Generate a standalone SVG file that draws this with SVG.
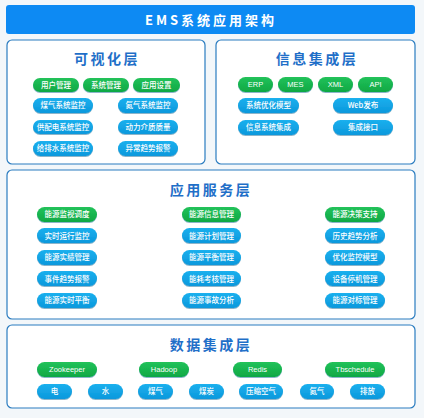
<svg xmlns="http://www.w3.org/2000/svg" width="424" height="418" viewBox="0 0 424 418">
<defs>
<linearGradient id="gG" x1="0" y1="0" x2="0" y2="1"><stop offset="0" stop-color="#22c25a"/><stop offset="1" stop-color="#0fa844"/></linearGradient>
<linearGradient id="gB" x1="0" y1="0" x2="0" y2="1"><stop offset="0" stop-color="#1bb0ee"/><stop offset="1" stop-color="#0b98dc"/></linearGradient>
<filter id="sh" x="-10%" y="-20%" width="120%" height="160%"><feDropShadow dx="0" dy="1" stdDeviation="0.6" flood-color="#0a5a8a" flood-opacity="0.45"/></filter>
</defs>
<style>
.panel{fill:#ffffff;stroke:#2a7cc0;stroke-width:1.2}
.ptitle{font-family:"Noto Sans CJK SC","Liberation Sans",sans-serif;font-size:14px;font-weight:bold;fill:#1f6fc8;text-anchor:middle;letter-spacing:2.5px}
.g{fill:url(#gG);filter:url(#sh)}
.b{fill:url(#gB);filter:url(#sh)}
.t{font-family:"Noto Sans CJK SC","Liberation Sans",sans-serif;font-size:7.5px;font-weight:500;fill:#ffffff;text-anchor:middle}
.lt{font-family:"Liberation Sans","Noto Sans CJK SC",sans-serif;font-size:7.5px;fill:#ffffff;text-anchor:middle}
</style>
<rect x="0" y="0" width="424" height="418" fill="#f3f7fa"/>
<g id="title">
<rect x="6" y="5" width="409" height="29" rx="3" fill="#0d8af3"/>
<text x="211" y="24.5" font-family="Noto Sans CJK SC,Liberation Sans,sans-serif" font-size="13" font-weight="bold" fill="#ffffff" text-anchor="middle" letter-spacing="3">EMS系统应用架构</text>
</g>
<g id="layer-visual">
<rect class="panel" x="7" y="40" width="198" height="124" rx="5"/>
<text class="ptitle" x="107" y="64">可视化层</text>
<g id="n-yhgl"><rect class="g" x="33" y="78" width="46" height="14" rx="7"/><text class="t" x="56" y="87.6">用户管理</text></g>
<g id="n-xtgl"><rect class="g" x="83" y="78" width="46" height="14" rx="7"/><text class="t" x="106" y="87.6">系统管理</text></g>
<g id="n-yysz"><rect class="g" x="133" y="78" width="47" height="14" rx="7"/><text class="t" x="156.5" y="87.6">应用设置</text></g>
<g id="n-mqjk"><rect class="b" x="33" y="98" width="60" height="15" rx="7.5"/><text class="t" x="63" y="108.1">煤气系统监控</text></g>
<g id="n-dqjk"><rect class="b" x="118" y="98" width="60" height="15" rx="7.5"/><text class="t" x="148" y="108.1">氮气系统监控</text></g>
<g id="n-gpd"><rect class="b" x="33" y="120" width="60" height="14" rx="7"/><text class="t" x="63" y="129.6">供配电系统监控</text></g>
<g id="n-dljz"><rect class="b" x="118" y="120" width="60" height="14" rx="7"/><text class="t" x="148" y="129.6">动力介质质量</text></g>
<g id="n-gps"><rect class="b" x="33" y="141" width="60" height="15" rx="7.5"/><text class="t" x="63" y="151.1">给排水系统监控</text></g>
<g id="n-yc"><rect class="b" x="118" y="141" width="60" height="15" rx="7.5"/><text class="t" x="148" y="151.1">异常趋势报警</text></g>
</g>
<g id="layer-info">
<rect class="panel" x="216" y="40" width="199" height="124" rx="5"/>
<text class="ptitle" x="317" y="64">信息集成层</text>
<g id="n-erp"><rect class="g" x="238" y="77" width="35" height="15" rx="7.5"/><text class="lt" x="255.5" y="87.3">ERP</text></g>
<g id="n-mes"><rect class="g" x="278" y="77" width="35" height="15" rx="7.5"/><text class="lt" x="295.5" y="87.3">MES</text></g>
<g id="n-xml"><rect class="g" x="318" y="77" width="35" height="15" rx="7.5"/><text class="lt" x="335.5" y="87.3">XML</text></g>
<g id="n-api"><rect class="g" x="358" y="77" width="35" height="15" rx="7.5"/><text class="lt" x="375.5" y="87.3">API</text></g>
<g id="n-xtyh"><rect class="b" x="238" y="98" width="61" height="15" rx="7.5"/><text class="t" x="268.5" y="108.1">系统优化模型</text></g>
<g id="n-web"><rect class="b" x="333" y="98" width="60" height="15" rx="7.5"/><text class="t" x="363" y="108.1">Web发布</text></g>
<g id="n-xxjc"><rect class="b" x="238" y="120" width="61" height="15" rx="7.5"/><text class="t" x="268.5" y="130.1">信息系统集成</text></g>
<g id="n-jcjk"><rect class="b" x="333" y="120" width="60" height="15" rx="7.5"/><text class="t" x="363" y="130.1">集成接口</text></g>
</g>
<g id="layer-app">
<rect class="panel" x="7" y="170" width="408" height="149" rx="5"/>
<text class="ptitle" x="211" y="195">应用服务层</text>
<g id="n-a1"><rect class="g" x="37" y="207" width="60" height="15" rx="7.5"/><text class="t" x="67" y="217.1">能源监视调度</text></g>
<g id="n-a2"><rect class="b" x="37" y="228" width="60" height="15" rx="7.5"/><text class="t" x="67" y="238.6">实时运行监控</text></g>
<g id="n-a3"><rect class="b" x="37" y="250" width="60" height="15" rx="7.5"/><text class="t" x="67" y="260.1">能源实绩管理</text></g>
<g id="n-a4"><rect class="b" x="37" y="271" width="60" height="15" rx="7.5"/><text class="t" x="67" y="281.6">事件趋势报警</text></g>
<g id="n-a5"><rect class="b" x="37" y="293" width="60" height="15" rx="7.5"/><text class="t" x="67" y="303.1">能源实时平衡</text></g>
<g id="n-b1"><rect class="g" x="182" y="207" width="59" height="15" rx="7.5"/><text class="t" x="211.5" y="217.1">能源信息管理</text></g>
<g id="n-b2"><rect class="b" x="182" y="228" width="59" height="15" rx="7.5"/><text class="t" x="211.5" y="238.6">能源计划管理</text></g>
<g id="n-b3"><rect class="b" x="182" y="250" width="59" height="15" rx="7.5"/><text class="t" x="211.5" y="260.1">能源平衡管理</text></g>
<g id="n-b4"><rect class="b" x="182" y="271" width="59" height="15" rx="7.5"/><text class="t" x="211.5" y="281.6">能耗考核管理</text></g>
<g id="n-b5"><rect class="b" x="182" y="293" width="59" height="15" rx="7.5"/><text class="t" x="211.5" y="303.1">能源事故分析</text></g>
<g id="n-c1"><rect class="g" x="325" y="207" width="60" height="15" rx="7.5"/><text class="t" x="355" y="217.1">能源决策支持</text></g>
<g id="n-c2"><rect class="b" x="325" y="228" width="60" height="15" rx="7.5"/><text class="t" x="355" y="238.6">历史趋势分析</text></g>
<g id="n-c3"><rect class="b" x="325" y="250" width="60" height="15" rx="7.5"/><text class="t" x="355" y="260.1">优化监控模型</text></g>
<g id="n-c4"><rect class="b" x="325" y="271" width="60" height="15" rx="7.5"/><text class="t" x="355" y="281.6">设备停机管理</text></g>
<g id="n-c5"><rect class="b" x="325" y="293" width="60" height="15" rx="7.5"/><text class="t" x="355" y="303.1">能源对标管理</text></g>
</g>
<g id="layer-data">
<rect class="panel" x="7" y="325" width="408" height="83" rx="5"/>
<text class="ptitle" x="211" y="350">数据集成层</text>
<g id="n-zk"><rect class="g" x="37" y="362" width="60" height="15" rx="7.5"/><text class="lt" x="67" y="372.3">Zookeeper</text></g>
<g id="n-hd"><rect class="g" x="139" y="362" width="50" height="15" rx="7.5"/><text class="lt" x="164" y="372.3">Hadoop</text></g>
<g id="n-rd"><rect class="g" x="233" y="362" width="49" height="15" rx="7.5"/><text class="lt" x="257.5" y="372.3">Redis</text></g>
<g id="n-tb"><rect class="g" x="325" y="362" width="60" height="15" rx="7.5"/><text class="lt" x="355" y="372.3">Tbschedule</text></g>
<g id="n-d1"><rect class="b" x="37" y="384" width="35" height="15" rx="7.5"/><text class="t" x="54.5" y="394.1">电</text></g>
<g id="n-d2"><rect class="b" x="88" y="384" width="35" height="15" rx="7.5"/><text class="t" x="105.5" y="394.1">水</text></g>
<g id="n-d3"><rect class="b" x="138" y="384" width="35" height="15" rx="7.5"/><text class="t" x="155.5" y="394.1">煤气</text></g>
<g id="n-d4"><rect class="b" x="189" y="384" width="35" height="15" rx="7.5"/><text class="t" x="206.5" y="394.1">煤炭</text></g>
<g id="n-d5"><rect class="b" x="239" y="384" width="44" height="15" rx="7.5"/><text class="t" x="261" y="394.1">压缩空气</text></g>
<g id="n-d6"><rect class="b" x="300" y="384" width="34" height="15" rx="7.5"/><text class="t" x="317" y="394.1">氮气</text></g>
<g id="n-d7"><rect class="b" x="350" y="384" width="35" height="15" rx="7.5"/><text class="t" x="367.5" y="394.1">排放</text></g>
</g>
<g id="connectors"></g>
</svg>
